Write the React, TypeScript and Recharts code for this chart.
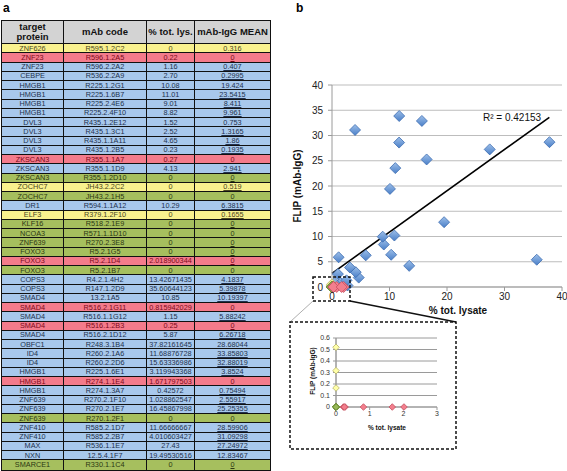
import { CartesianGrid, ReferenceLine, Scatter, ScatterChart, XAxis, YAxis } from "recharts";

// table a
const proteins = [
  "ZNF626", "ZNF23", "ZNF23", "CEBPE", "HMGB1", "HMGB1", "HMGB1", "HMGB1", "DVL3", "DVL3",
  "DVL3", "DVL3", "ZKSCAN3", "ZKSCAN3", "ZKSCAN3", "ZOCHC7", "ZOCHC7", "DR1", "ELF3", "KLF16",
  "NCOA3", "ZNF639", "FOXO3", "FOXO3", "FOXO3", "COPS3", "COPS3", "SMAD4", "SMAD4", "SMAD4",
  "SMAD4", "SMAD4", "OBFC1", "ID4", "ID4", "HMGB1", "HMGB1", "HMGB1", "ZNF639", "ZNF639",
  "ZNF639", "ZNF410", "ZNF410", "MAX", "NXN", "SMARCE1",
];
const mAbCodes = [
  "R595.1.2C2", "R596.1.2A5", "R596.2.2A2", "R536.2.2A9", "R225.1.2G1", "R225.1.6B7", "R225.2.4E6", "R225.2.4F10", "R435.1.2E12", "R435.1.3C1",
  "R435.1.1A11", "R435.1.2B5", "R355.1.1A7", "R355.1.1D9", "R355.1.2D10", "JH43.2.2C2", "JH43.2.1H5", "R594.1.1A12", "R379.1.2F10", "R518.2.1E9",
  "R571.1.1D10", "R270.2.3E8", "R5.2.1G5", "R5.2.1D4", "R5.2.1B7", "R4.2.1.4H2", "R147.1.2D9", "13.2.1A5", "R516.2.1G11", "R516.1.1G12",
  "R516.1.2B3", "R516.2.1D12", "R248.3.1B4", "R260.2.1A6", "R260.2.2D6", "R225.1.6E1", "R274.1.1E4", "R274.1.3A7", "R270.2.1F10", "R270.2.1E7",
  "R270.1.2F1", "R585.2.1D7", "R585.2.2B7", "R536.1.1E7", "12.5.4.1F7", "R330.1.1C4",
];
const totLysate = [
  "0", "0.22", "1.16", "2.70", "10.08", "11.01", "9.01", "8.82", "1.52", "2.52",
  "4.65", "0.23", "0.27", "4.13", "0", "0", "0", "10.29", "0", "0",
  "0", "0", "0", "2.018900344", "0", "13.42671435", "35.60644123", "10.85", "0.815942029", "1.15",
  "0.25", "5.87", "37.82161645", "11.68876728", "15.63336986", "3.119943368", "1.671797503", "0.42572", "1.028862547", "16.45867998",
  "0", "11.66666667", "4.010603427", "27.43", "19.49530516", "0",
];
const iggMean = [
  "0.316", "0", "0.407", "0.2995", "19.424", "23.5415", "8.411", "9.961", "0.753", "1.3165",
  "1.86", "0.1935", "0", "2.941", "0", "0.519", "0", "6.3815", "0.1655", "0",
  "0", "0", "0", "0", "0", "4.1837", "5.39878", "10.19397", "0", "5.88242",
  "0", "6.26718", "28.68044", "33.85803", "32.88019", "3.8524", "0", "0.75494", "2.55917", "25.25355",
  "0", "28.59906", "31.09298", "27.24972", "12.83467", "0",
];

// panel b
const mainXTicks = [0, 10, 20, 30, 40];
const mainYTicks = [0, 5, 10, 15, 20, 25, 30, 35, 40];
const insetXTicks = [0, 1, 2, 3];
const insetYTicks = [0, 0.1, 0.2, 0.3, 0.4, 0.5, 0.6];
const trendX = [0, 37.8];
const trendY = [2.7, 33.6];
const rSquared = "R² = 0.42153";

const FONT = '"Liberation Sans", Arial, Helvetica, sans-serif';

const groupOf = (x: number, y: number) => (x === 0 && y === 0 ? "g" : x === 0 ? "y" : y === 0 ? "r" : "b");

const rows = proteins.map((p, i) => {
  const x = Number(totLysate[i]);
  const y = Number(iggMean[i]);
  return { p, code: mAbCodes[i], lys: totLysate[i], mean: iggMean[i], x, y, group: groupOf(x, y) };
});

const rowBg: Record<string, string> = { y: "#f9f18e", r: "#f47b8b", b: "#a8c8ec", g: "#a6bf5e" };
const rowText: Record<string, string> = { y: "#4a4620", r: "#7d0a1c", b: "#22324f", g: "#2d3812" };
const markFill: Record<string, string> = { y: "#ffffa8", r: "#f37e8d", b: "url(#blueDia)", g: "#97b856" };
const markStroke: Record<string, string> = { y: "#b8b46a", r: "#c4505f", b: "#3e6db1", g: "#6b8a36" };

const byGroup = (g: string) => rows.filter((r) => r.group === g).map((r) => ({ x: r.x, y: r.y }));

// inset: everything except the blue points, red drawn last
const insetData = ["y", "g", "r"].flatMap((g) => rows.filter((r) => r.group === g).map((r) => ({ x: r.x, y: r.y, group: g })));
const insetGridData = insetYTicks.map((t) => ({ x: 0, y: t }));

const INSET_W = 166;
const INSET_H = 127;
const INSET_M = { top: 16, right: 19, bottom: 0, left: 0 };
const INSET_YAXIS_W = 46;
const INSET_XAXIS_H = 42;
const INSET_PLOT_W = INSET_W - INSET_M.left - INSET_M.right - INSET_YAXIS_W;
const INSET_PLOT_H = INSET_H - INSET_M.top - INSET_M.bottom - INSET_XAXIS_H;

const diamondPath = (cx: number, cy: number, r: number, g: string) => (
  <polygon
    points={`${cx},${cy - r} ${cx + r},${cy} ${cx},${cy + r} ${cx - r},${cy}`}
    fill={markFill[g]}
    stroke={markStroke[g]}
    strokeWidth={0.8}
  />
);

const diamond = (r: number, g: string) => (props: any) => {
  const { cx, cy } = props;
  if (cx == null || cy == null) return <g />;
  return diamondPath(cx, cy, r, g);
};

const insetShape = (props: any) => {
  const { cx, cy, payload } = props;
  if (cx == null || cy == null) return <g />;
  return diamondPath(cx, cy, 3.3, payload.group);
};

// inset grid line + y tick label, placed by the inset's own y scale
const insetGridShape = (props: any) => {
  const { cx, cy, payload } = props;
  if (cx == null || cy == null) return <g />;
  return (
    <g>
      <line x1={cx - 3} x2={cx + INSET_PLOT_W} y1={cy} y2={cy} stroke="#9a9a9a" strokeWidth={1} />
      <text x={cx - 6} y={cy} dy="0.35em" textAnchor="end" fontSize={7} fill="#333" fontFamily={FONT}>
        {String(payload.y)}
      </text>
      {payload.y === 0 && <line x1={cx} x2={cx} y1={cy} y2={cy - INSET_PLOT_H} stroke="#9a9a9a" strokeWidth={1} />}
    </g>
  );
};

const colW = [62, 83, 48, 77];
const ROW_H = 425.7 / 46;

function Table() {
  const cell = (w: number, last: boolean): React.CSSProperties => ({
    width: w,
    boxSizing: "border-box",
    borderRight: last ? "none" : "1px solid #111",
    display: "flex",
    alignItems: "center",
    justifyContent: "center",
    overflow: "hidden",
    whiteSpace: "nowrap",
  });
  return (
    <div style={{ position: "absolute", left: 1, top: 20, width: 270, border: "1px solid #111", boxSizing: "border-box", fontFamily: FONT }}>
      <div style={{ display: "flex", height: 23, background: "#d3d3d3", borderBottom: "1px solid #111", boxSizing: "border-box", fontWeight: "bold", fontSize: 9.5, lineHeight: "10px", color: "#111", textAlign: "center" }}>
        <div style={cell(colW[0], false)}>target<br />protein</div>
        <div style={cell(colW[1], false)}>mAb code</div>
        <div style={cell(colW[2], false)}>% tot. lys.</div>
        <div style={cell(colW[3] - 2, true)}>mAb-IgG MEAN</div>
      </div>
      {rows.map((r, i) => (
        <div
          key={i}
          style={{
            display: "flex",
            height: ROW_H,
            background: rowBg[r.group],
            color: rowText[r.group],
            borderBottom: i === rows.length - 1 ? "none" : "1px solid #111",
            boxSizing: "border-box",
            fontSize: 7.3,
          }}
        >
          <div style={cell(colW[0], false)}>{r.p}</div>
          <div style={cell(colW[1], false)}>{r.code}</div>
          <div style={cell(colW[2], false)}>{r.lys}</div>
          <div style={{ ...cell(colW[3] - 2, true), textDecoration: "underline", textDecorationThickness: "0.5px" }}>{r.mean}</div>
        </div>
      ))}
    </div>
  );
}

function MainChart() {
  return (
    <div style={{ position: "absolute", left: 265, top: 0 }}>
      <ScatterChart width={302} height={320} margin={{ top: 85, right: 5, bottom: 0, left: 0 }}>
        <defs>
          <linearGradient id="blueDia" x1="0" y1="0" x2="0" y2="1">
            <stop offset="0%" stopColor="#9dbfe9" />
            <stop offset="100%" stopColor="#4a7fc8" />
          </linearGradient>
        </defs>
        <CartesianGrid vertical={false} stroke="#bdbdbd" strokeWidth={1} />
        <XAxis
          type="number"
          dataKey="x"
          domain={[0, 40]}
          ticks={mainXTicks}
          interval={0}
          height={33}
          axisLine={{ stroke: "#9a9a9a" }}
          tickLine={{ stroke: "#9a9a9a" }}
          tickSize={4}
          tick={{ fontSize: 10, fill: "#222", fontFamily: FONT }}
        />
        <YAxis
          type="number"
          dataKey="y"
          domain={[0, 40]}
          ticks={mainYTicks}
          interval={0}
          width={67}
          axisLine={{ stroke: "#9a9a9a" }}
          tickLine={{ stroke: "#9a9a9a" }}
          tickSize={4}
          tickMargin={5}
          tick={{ fontSize: 10, fill: "#222", fontFamily: FONT }}
        />
        <Scatter data={byGroup("b")} shape={diamond(5.5, "b")} isAnimationActive={false} />
        <Scatter data={byGroup("y")} shape={diamond(5.5, "y")} isAnimationActive={false} />
        <Scatter data={byGroup("g")} shape={diamond(5.5, "g")} isAnimationActive={false} />
        <Scatter data={byGroup("r")} shape={diamond(5.5, "r")} isAnimationActive={false} />
        <ReferenceLine
          segment={[{ x: trendX[0], y: trendY[0] }, { x: trendX[1], y: trendY[1] }]}
          stroke="#000"
          strokeWidth={1.6}
          ifOverflow="visible"
        />
      </ScatterChart>
    </div>
  );
}

function InsetChart() {
  return (
    <div style={{ position: "absolute", left: 290, top: 322 }}>
      <ScatterChart width={INSET_W} height={INSET_H} margin={INSET_M}>
        <XAxis
          type="number"
          dataKey="x"
          domain={[0, 3]}
          ticks={insetXTicks}
          interval={0}
          height={INSET_XAXIS_H}
          stroke="#9a9a9a"
          tickSize={3}
          tickMargin={1}
          tick={{ fontSize: 7, fill: "#333" }}
        />
        <YAxis
          type="number"
          dataKey="y"
          domain={[0, 0.6]}
          width={INSET_YAXIS_W}
          stroke="#9a9a9a"
          tick={false}
          tickLine={false}
        />
        <Scatter data={insetGridData} shape={insetGridShape} isAnimationActive={false} />
        <Scatter data={insetData} shape={insetShape} isAnimationActive={false} />
      </ScatterChart>
    </div>
  );
}

function Overlay() {
  return (
    <svg width={567} height={471} style={{ position: "absolute", left: 0, top: 0, pointerEvents: "none" }} fontFamily={FONT}>
      <text x={3} y={12} fontSize={12} fontWeight="bold">a</text>
      <text x={296} y={12} fontSize={12} fontWeight="bold">b</text>
      <text x={483} y={121} fontSize={10} fill="#111">{rSquared}</text>
      <text x={458} y={314} fontSize={10} fontWeight="bold" textAnchor="middle" fill="#111">% tot. lysate</text>
      <text transform="translate(301,186) rotate(-90)" fontSize={10} fontWeight="bold" textAnchor="middle" fill="#111">FLIP (mAb-IgG)</text>
      <text x={387} y={430} fontSize={6.5} fontWeight="bold" textAnchor="middle" fill="#111">% tot. lysate</text>
      <text transform="translate(315,371) rotate(-90)" fontSize={6.5} fontWeight="bold" textAnchor="middle" fill="#111">FLIP (mAb-IgG)</text>
      <rect x={313} y={277} width={37} height={24} fill="none" stroke="#111" strokeWidth={1.5} strokeDasharray="3 2" />
      <line x1={313} y1={301} x2={290} y2={322} stroke="#999" strokeWidth={0.8} />
      <line x1={350} y1={301} x2={456} y2={322} stroke="#111" strokeWidth={1.3} />
      <rect x={290} y={322} width={166} height={127} fill="none" stroke="#111" strokeWidth={1.5} strokeDasharray="3 2" />
    </svg>
  );
}

export default function App() {
  return (
    <div style={{ position: "absolute", left: 0, top: 0, width: 567, height: 471, background: "#fff", overflow: "hidden", fontFamily: FONT }}>
      <Table />
      <MainChart />
      <InsetChart />
      <Overlay />
    </div>
  );
}
